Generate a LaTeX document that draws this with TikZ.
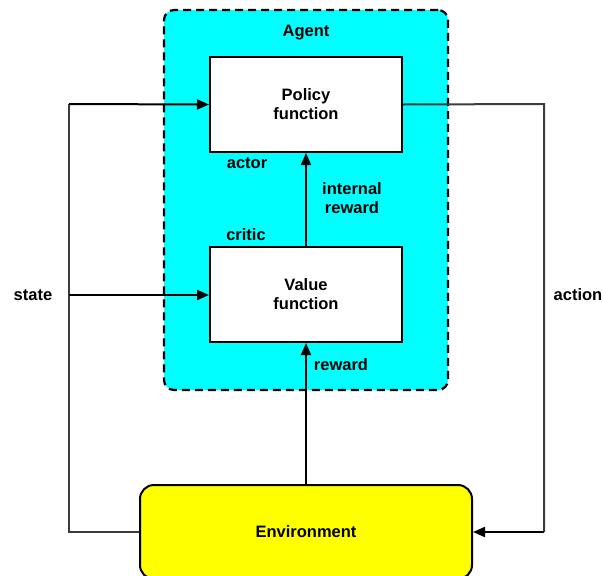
\documentclass[tikz,border=0pt]{standalone}
\usepackage{fontspec}
\setmainfont{Liberation Sans}
\usetikzlibrary{arrows.meta}
\definecolor{agentcyan}{RGB}{0,255,255}
\definecolor{envyellow}{RGB}{255,255,0}
\definecolor{loopgray}{RGB}{60,60,60}
\begin{document}
\begin{tikzpicture}[x=1pt,y=-1pt,
  lbl/.style={font=\fontsize{16.5}{18.5}\selectfont\bfseries, align=center, inner sep=0pt},
  fbox/.style={draw=black, line width=2pt, fill=white, minimum width=192pt, minimum height=95pt, inner sep=0pt, font=\fontsize{16.5}{19}\selectfont\bfseries, align=center},
  conn/.style={line width=2pt, -{Triangle[length=12pt,width=10pt]}},
  loop/.style={draw=loopgray, line width=2pt},
]
\useasboundingbox (0,0) rectangle (603,576);
\node[draw=black, dashed, dash pattern=on 8pt off 5pt, line width=2.2pt, fill=agentcyan, rounded corners=10pt, minimum width=284pt, minimum height=380pt, inner sep=0pt] (agent) at (306,200) {};
\node[lbl] (agentlbl) at (306,33) {Agent};
\node[fbox] (policy) at (306,104.5) {Policy\\function};
\node[fbox] (value) at (306,294.5) {Value\\function};
\node[draw=black, line width=2pt, fill=envyellow, rounded corners=14pt, minimum width=332pt, minimum height=94pt, inner sep=0pt, font=\fontsize{16.5}{19}\selectfont\bfseries] (env) at (306,532) {Environment};
\coordinate (lt) at (69,104);
\coordinate (lb) at (69,532);
\coordinate (ls) at (69,295);
\coordinate (rt) at (544,104);
\coordinate (rb) at (544,532);
\draw[loop] (env.west) -- (lb) -- (lt);
\draw[conn] (lt) -- (policy.west);
\draw[conn] (ls) -- (value.west |- ls);
\draw[loop] (policy.east) -- (rt) -- (rb);
\draw[conn] (rb) -- (env.east);
\draw[conn] (env.north) -- (value.south);
\draw[conn] (value.north) -- (policy.south);
\node[lbl] (actor) at (247,163) {actor};
\node[lbl] (critic) at (246,235) {critic};
\node[lbl] (ir) at (352,198) {internal\\reward};
\node[lbl] (rw) at (341,365) {reward};
\node[lbl] (state) at (33,295) {state};
\node[lbl] (action) at (578,295) {action};
\end{tikzpicture}
\end{document}
